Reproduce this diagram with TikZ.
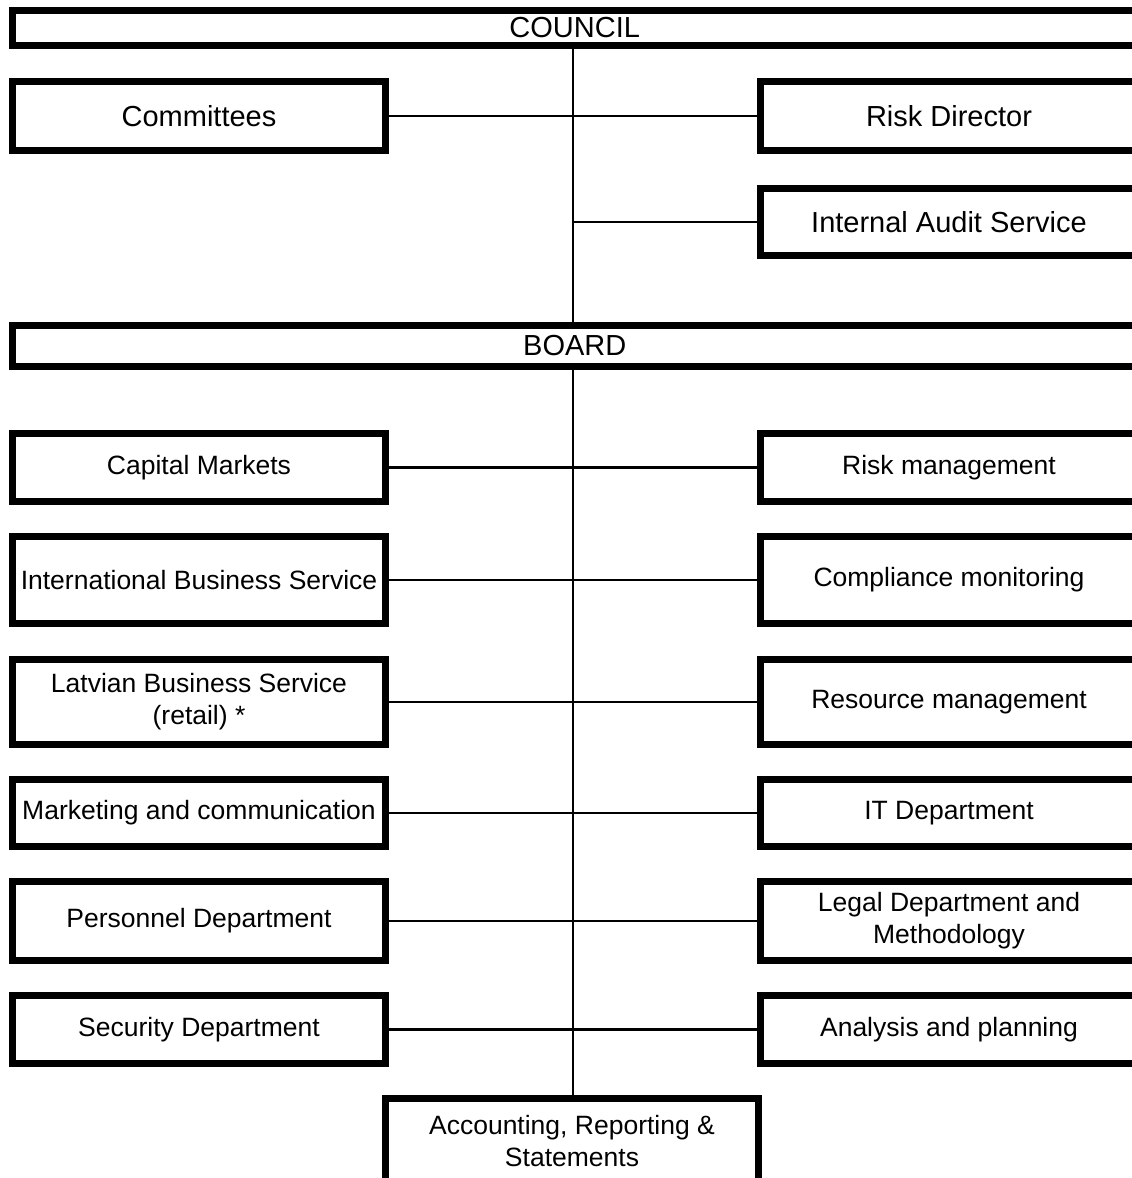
\documentclass[tikz,border=0pt]{standalone}
\usepackage{fontspec}
\setmainfont{Liberation Sans}
\begin{document}
\begin{tikzpicture}[x=1pt,y=-1pt,
  box/.style={draw, line width=7pt, fill=white, inner sep=0pt, align=center,
    minimum width=373pt},
  rbox/.style={box, minimum width=377pt},
  wide/.style={box, minimum width=1127.5pt},
  big/.style={font=\fontsize{29}{32}\selectfont},
  small/.style={font=\fontsize{26.5}{32}\selectfont},
  conn/.style={line width=2.5pt}]
\useasboundingbox (0,0) rectangle (1132,1178);
\node[wide,big,minimum height=35pt] (council) at (576.25,28) {\hspace*{-3pt}COUNCIL};
\node[box,big,minimum height=69pt] (cmt) at (199,116) {Committees};
\node[rbox,big,minimum height=69pt] (rd) at (949,116) {Risk Director};
\node[rbox,big,minimum height=67pt] (ias) at (949,222) {Internal Audit Service};
\node[wide,big,minimum height=41pt] (board) at (576.25,346) {\hspace*{-3pt}BOARD};
\node[box,small,minimum height=68pt] (cap) at (199,467.5) {Capital Markets};
\node[rbox,small,minimum height=68pt] (rm) at (949,467.5) {Risk management};
\node[box,small,minimum height=87pt] (ibs) at (199,580) {International Business Service};
\node[rbox,small,minimum height=87pt] (cm) at (949,580) {Compliance monitoring};
\node[box,small,minimum height=85pt] (lbs) at (199,702) {Latvian Business Service\\(retail) *};
\node[rbox,small,minimum height=85pt] (res) at (949,702) {Resource management};
\node[box,small,minimum height=67pt] (mkt) at (199,813) {Marketing and communication};
\node[rbox,small,minimum height=67pt] (it) at (949,813) {IT Department};
\node[box,small,minimum height=79pt] (per) at (199,921) {Personnel Department};
\node[rbox,small,minimum height=79pt] (leg) at (949,921) {Legal Department and\\Methodology};
\node[box,small,minimum height=68pt] (sec) at (199,1029.5) {Security Department};
\node[rbox,small,minimum height=68pt] (ana) at (949,1029.5) {Analysis and planning};
\node[box,small,minimum height=85pt] (acc) at (572,1141) {Accounting, Reporting \&\\Statements};
\draw[conn] (council.south -| 573,0) -- (board.north -| 573,0);
\draw[conn] (board.south -| 573,0) -- (acc.north -| 573,0);
\draw[conn] (cmt.east) -- (rd.west);
\draw[conn] (ias.west) -- (ias.west -| 573,0);
\draw[conn] (cap.east) -- (rm.west);
\draw[conn] (ibs.east) -- (cm.west);
\draw[conn] (lbs.east) -- (res.west);
\draw[conn] (mkt.east) -- (it.west);
\draw[conn] (per.east) -- (leg.west);
\draw[conn] (sec.east) -- (ana.west);
\end{tikzpicture}
\end{document}
